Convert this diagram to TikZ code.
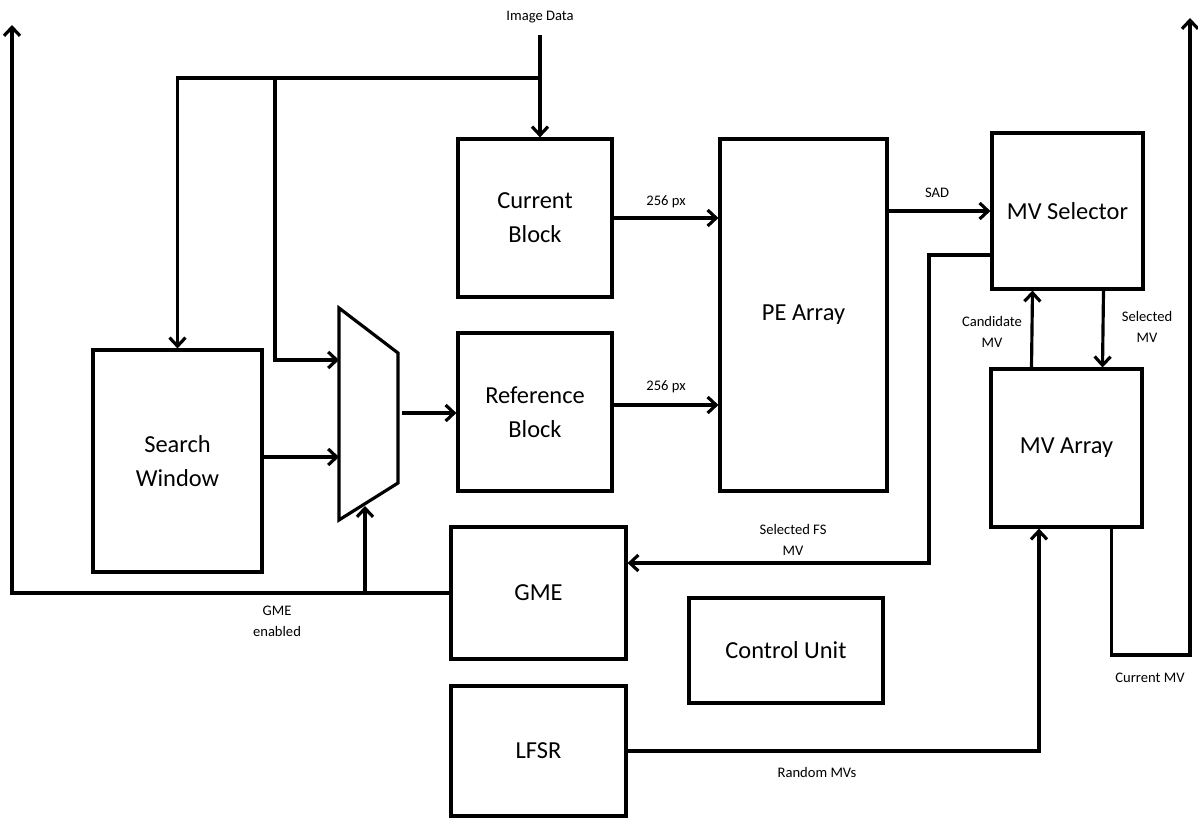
\documentclass[tikz,border=0pt]{standalone}
\usepackage{fontspec}
\setmainfont{Carlito}
\usetikzlibrary{arrows.meta}

\begin{document}
\begin{tikzpicture}[x=0.2mm,y=-0.2mm,line width=1.8pt,
  >={Straight Barb[length=1.7mm,width=3.2mm]},
  blk/.style={draw,rectangle,inner sep=0pt,align=center,
    font=\fontsize{13.9}{19.3}\selectfont},
  lbl/.style={inner sep=0pt,align=center,font=\fontsize{8.3}{12}\selectfont}]
\useasboundingbox (0,0) rectangle (1198,818);

% blocks
\node[blk,minimum width=30.8mm,minimum height=31.6mm] (cur) at (535,218) {Current\\Block};
\node[blk,minimum width=30.8mm,minimum height=31.6mm] (ref) at (535,412) {Reference\\Block};
\node[blk,minimum width=33.4mm,minimum height=70.4mm] (pe) at (803.5,315) {PE Array};
\node[blk,minimum width=30.2mm,minimum height=31.2mm] (sel) at (1067.5,211) {MV Selector};
\node[blk,minimum width=30.2mm,minimum height=31.6mm] (mva) at (1066.5,448) {MV Array};
\node[blk,minimum width=33.8mm,minimum height=44.4mm] (sw) at (177.5,461) {Search\\Window};
\node[blk,minimum width=35mm,minimum height=26.4mm] (gme) at (538.5,593) {GME};
\node[blk,minimum width=35mm,minimum height=26mm] (lfsr) at (538.5,751) {LFSR};
\node[blk,minimum width=38.8mm,minimum height=21mm] (cu) at (786,650.5) {Control Unit};

% mux
\draw (339,308) -- (398,353) -- (398,483) -- (339,520) -- cycle;
\coordinate (muxa) at (339,360);
\coordinate (muxb) at (339,457);
\coordinate (muxo) at (402,413);
\coordinate (muxs) at (365,506);

% image data bus
\node[lbl] (img) at (540,17) {Image Data};
\coordinate (imgin) at (540,35);
\coordinate (bus) at (540,78);
\coordinate (tap) at (275,78);
\draw[->] (imgin) -- (imgin |- cur.north);
\draw[->] (bus) -| (sw.north);
\draw[->] (tap) |- (muxa);
\draw[->] (sw.east |- muxb) -- (muxb);
\draw[->] (muxo) -- (ref.west |- muxo);

% pixels to PE array
\draw[->] (cur.east) -- (cur.east -| pe.west);
\draw[->] ([yshift=1.4mm]ref.east) -- ([yshift=1.4mm]ref.east -| pe.west);
\node[lbl] (pxa) at (666,202) {256 px};
\node[lbl] (pxb) at (666,387) {256 px};

% SAD
\draw[->] (sel.west -| pe.east) -- (sel.west);
\node[lbl] (sad) at (937,193) {SAD};

% selected FS MV back to GME
\coordinate (fsx) at (929,563);
\draw[->] ([yshift=-8.8mm]sel.west) -| (fsx) -- (gme.east |- fsx);
\node[lbl] (fslbl) at (793,540) {Selected FS\\MV};

% selector <-> MV array
\draw[->] ([xshift=-7mm]mva.north) -- ([xshift=-7mm]sel.south);
\draw[->] ([xshift=7.2mm]sel.south) -- ([xshift=7.2mm]mva.north);
\node[lbl] (cand) at (992,332) {Candidate\\MV};
\node[lbl] (selmv) at (1147,327) {Selected\\MV};

% current MV out
\coordinate (cmv) at (1190,655);
\coordinate (outr) at (1190,18);
\draw[->] ([xshift=9mm]mva.south) |- (cmv) -- (outr);
\node[lbl] (cmvlbl) at (1150,678) {Current MV};

% random MVs
\draw[->] (lfsr.east) -| ([xshift=-5.5mm]mva.south);
\node[lbl] (rnd) at (817,772) {Random MVs};

% GME enabled
\coordinate (gtap) at (365,593);
\coordinate (outl) at (12,25);
\draw[->] (gme.west) -| (outl);
\draw[->] (gtap) -- (muxs);
\node[lbl] (gen) at (277,621) {GME\\enabled};
\end{tikzpicture}
\end{document}
